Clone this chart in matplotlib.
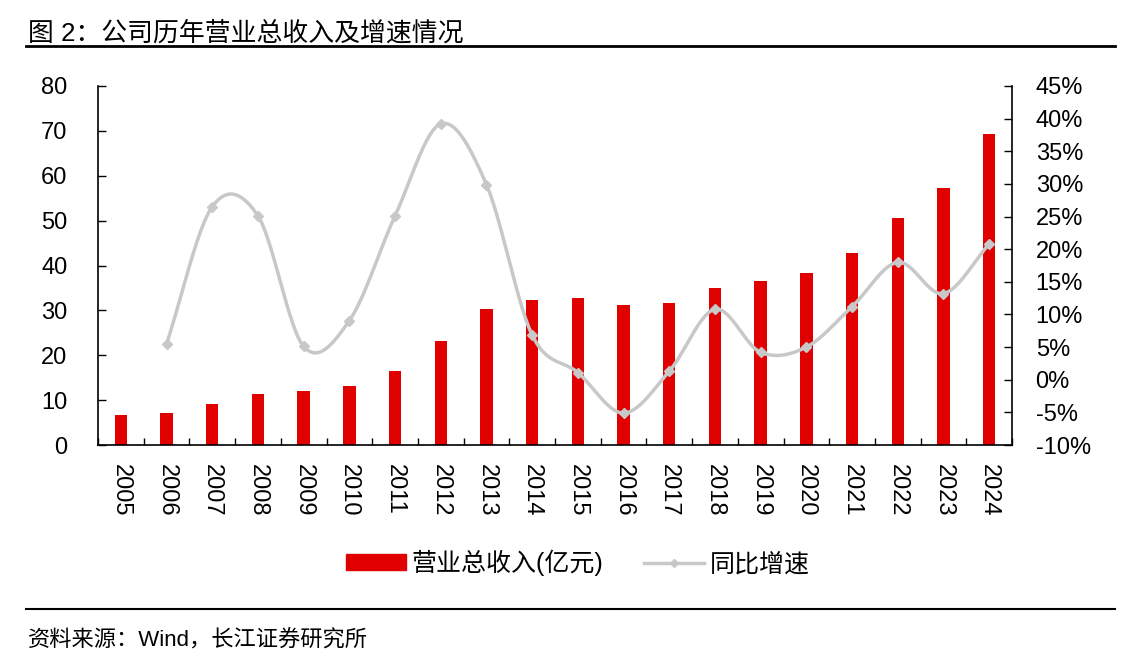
import numpy as np
import matplotlib
matplotlib.use("Agg")
import matplotlib.pyplot as plt
from matplotlib.lines import Line2D
from matplotlib.patches import Patch

plt.rcParams['font.family'] = ['Liberation Sans', 'Noto Sans CJK SC', 'DejaVu Sans']

years = [str(y) for y in range(2005, 2025)]
revenue = [6.7, 7.1, 9.1, 11.4, 12.0, 13.1, 16.6, 23.1, 30.2, 32.3,
           32.8, 31.1, 31.6, 35.0, 36.6, 38.3, 42.7, 50.5, 57.2, 69.2]
growth_years = years[1:]
growth = [5.5, 26.5, 25.1, 5.1, 9.05, 25.1, 39.2, 29.9, 6.85,
          1.1, -5.1, 1.3, 10.8, 4.2, 5.0, 11.2, 18.0, 13.2, 20.8]

bar_color = "#E00000"
line_color = "#C8C8C8"


def catmull_rom(x, y, n=30):
    # smooth curve through the points, like Excel's smoothed line
    x = np.asarray(x, float)
    y = np.asarray(y, float)
    px = np.concatenate([[2 * x[0] - x[1]], x, [2 * x[-1] - x[-2]]])
    py = np.concatenate([[2 * y[0] - y[1]], y, [2 * y[-1] - y[-2]]])
    xs, ys = [], []
    for i in range(1, len(px) - 2):
        t = np.linspace(0, 1, n)
        for p, out in ((px, xs), (py, ys)):
            p0, p1, p2, p3 = p[i - 1], p[i], p[i + 1], p[i + 2]
            c1 = p1 + (p2 - p0) / 6
            c2 = p2 - (p3 - p1) / 6
            out.append((1 - t) ** 3 * p1 + 3 * (1 - t) ** 2 * t * c1
                       + 3 * (1 - t) * t ** 2 * c2 + t ** 3 * p2)
    return np.concatenate(xs), np.concatenate(ys)


fig = plt.figure(figsize=(11.24, 6.65), dpi=100)
ax = fig.add_axes([98 / 1124, 1 - 445 / 665, (1012 - 98) / 1124, (445 - 86) / 665])

x = np.arange(len(years))
ax.bar(x, revenue, width=0.27, color=bar_color, zorder=2)
ax.set_xlim(-0.5, len(years) - 0.5)
ax.set_ylim(0, 80)
ax.set_yticks(range(0, 81, 10))
ax.set_xticks(x)
ax.set_xticklabels(years, rotation=-90, fontsize=17)
ax.set_xticks(np.arange(-0.5, len(years), 1), minor=True)
ax.tick_params(axis='x', which='major', length=0, pad=14)
ax.tick_params(axis='x', which='minor', direction='in', length=5, width=1)
ax.tick_params(axis='y', direction='in', length=6, width=1, labelsize=17, pad=22)
ax.spines['top'].set_visible(False)
ax.spines['right'].set_visible(False)
ax.spines['left'].set_linewidth(1.2)
ax.spines['bottom'].set_linewidth(1.2)

ax2 = ax.twinx()
gx = x[1:]
sx, sy = catmull_rom(gx, growth)
ax2.plot(sx, sy, color=line_color, lw=2.5, zorder=3)
ax2.plot(gx, growth, linestyle='none', marker='D', ms=5, color=line_color, zorder=4)
ax2.set_ylim(-10, 45)
ax2.set_yticks(range(-10, 46, 5))
ax2.set_yticklabels([f"{v}%" for v in range(-10, 46, 5)])
ax2.tick_params(axis='y', direction='in', length=6, width=1, labelsize=17, pad=17)
for s in ['top', 'left', 'bottom']:
    ax2.spines[s].set_visible(False)
ax2.spines['right'].set_linewidth(1.2)

handles = [Patch(color=bar_color),
           Line2D([0], [0], color=line_color, lw=2.5, marker='D', ms=4)]
fig.legend(handles, ["营业总收入(亿元)", "同比增速"], loc='center',
           bbox_to_anchor=(0.514, 1 - 563 / 665), ncol=2, frameon=False,
           fontsize=18, handlelength=2.4, handleheight=0.6, columnspacing=1.6,
           handletextpad=0.25)

fig.text(28 / 1124, 1 - 33 / 665, "图 2：公司历年营业总收入及增速情况", fontsize=18.6,
         va='center', ha='left')
fig.add_artist(Line2D([26 / 1124, 1115 / 1124], [1 - 46 / 665] * 2, color='black', lw=2))
fig.add_artist(Line2D([26 / 1124, 1115 / 1124], [1 - 609 / 665] * 2, color='black', lw=1.5))
fig.text(28 / 1124, 1 - 641 / 665, "资料来源：Wind，长江证券研究所", fontsize=16,
         va='center', ha='left')

fig.savefig("out.png", dpi=100)
